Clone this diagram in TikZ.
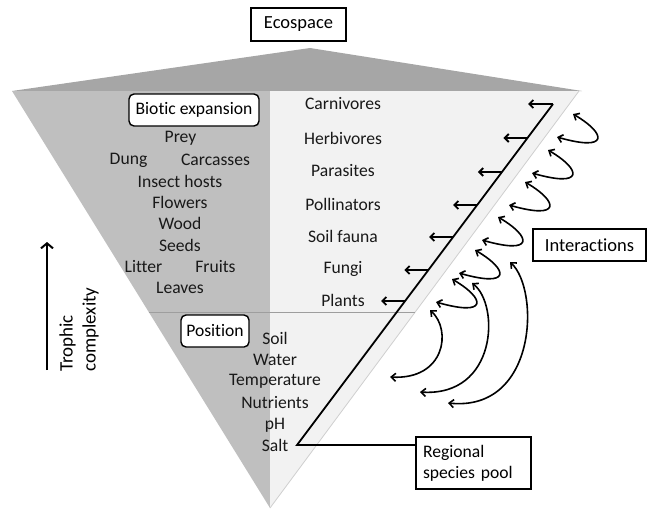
\documentclass[tikz,border=0pt]{standalone}
\usepackage{fontspec}
\setmainfont{Carlito}[Ligatures={NoCommon}]
\usetikzlibrary{arrows.meta,calc}
\definecolor{lidgray}{HTML}{A6A6A6}
\definecolor{leftgray}{HTML}{BFBFBF}
\definecolor{rightgray}{HTML}{F2F2F2}
\definecolor{edgegray}{HTML}{CFCFCF}
\definecolor{divgray}{HTML}{9E9E9E}
\begin{document}
\begin{tikzpicture}[x=1pt,y=-1pt,
  txt/.style={font=\fontsize{17.6}{21}\selectfont, inner sep=0pt, text=black!90},
  sqbox/.style={draw=black, line width=1.4pt, fill=white, font=\fontsize{18.5}{22}\selectfont, inner sep=0pt},
  rbox/.style={sqbox, rounded corners=5pt, font=\fontsize{17.6}{21}\selectfont},
  lvl/.style={-{Straight Barb[length=4pt,width=8pt]}, line width=1.8pt},
  loopar/.style={{Straight Barb[length=4.5pt,width=8pt]}-{Straight Barb[length=4.5pt,width=8pt]}, line width=1.6pt},
]
\useasboundingbox (0,0) rectangle (650,509);
% shapes
\fill[lidgray] (12,91) -- (310,48) -- (582,91) -- cycle;
\fill[leftgray] (12,91) -- (270,91) -- (270,508) -- cycle;
\fill[rightgray] (270,91) -- (579,91) -- (270,508) -- cycle;
\draw[edgegray, line width=0.8pt] (579,91) -- (270,508);
\draw[divgray, line width=0.6pt] (148.7,312) -- (415,312);

% boxes
\node[sqbox, minimum width=95pt, minimum height=33pt] (eco) at (298.5,24.5) {Ecospace};
\node[rbox, minimum width=130pt, minimum height=32pt] (bio) at (194,110) {Biotic expansion};
\node[rbox, minimum width=68pt, minimum height=32pt] (pos) at (215,331) {Position};
\node[sqbox, minimum width=113pt, minimum height=32pt] (inter) at (589.5,245) {Interactions};
\node[sqbox, font=\fontsize{17.6}{21}\selectfont, align=left, text width=101pt, inner xsep=7pt, minimum height=52pt] (reg) at (473.5,463) {Regional\\species pool};

% biotic resources
\node[txt] (prey) at (180.5,138) {Prey};
\node[txt] (dung) at (128.5,160) {Dung};
\node[txt] (carc) at (215.5,160) {Carcasses};
\node[txt] (ins) at (180,181) {Insect hosts};
\node[txt] (flo) at (180,202) {Flowers};
\node[txt] (wood) at (180,223) {Wood};
\node[txt] (seed) at (180,245) {Seeds};
\node[txt] (lit) at (143.5,266.5) {Litter};
\node[txt] (fru) at (215.5,266.5) {Fruits};
\node[txt] (lea) at (180,288) {Leaves};

% position factors
\node[txt] (soil) at (275,338) {Soil};
\node[txt] (wat) at (275,360) {Water};
\node[txt] (temp) at (275,381) {Temperature};
\node[txt] (nut) at (275,403) {Nutrients};
\node[txt] (ph) at (275,425) {pH};
\node[txt] (salt) at (275,445) {Salt};

% trophic levels
\node[txt] (l1) at (343,104) {Carnivores};
\node[txt] (l2) at (343,138) {Herbivores};
\node[txt] (l3) at (343,171) {Parasites};
\node[txt] (l4) at (343,204) {Pollinators};
\node[txt] (l5) at (343,236) {Soil fauna};
\node[txt] (l6) at (343,269) {Fungi};
\node[txt] (l7) at (343,300) {Plants};

% species pool line
\coordinate (top) at (553,104);
\coordinate (bot) at (297,445);
\draw[line width=1.8pt, line join=miter] (reg.west |- bot) -- (bot) -- (top);
\coordinate (e1) at ($(top)+(-25,0)$);
\draw[lvl] (top) -- (e1);
\foreach \f/\n in {0.9003/2,0.8006/3,0.7038/4,0.6100/5,0.5132/6,0.4223/7}{
  \coordinate (s\n) at ($(bot)!\f!(top)$);
  \coordinate (e\n) at ($(s\n)+(-24,0)$);
  \draw[lvl] (s\n) -- (e\n);
}

% interaction loops
\foreach \ax/\ay [count=\i] in {573/114, 548/150, 525/182, 498/217, 475/250, 452/279}{
  \coordinate (la\i) at (\ax,\ay);
  \coordinate (lb\i) at ($(la\i)+(-16,23)$);
  \draw[loopar] (la\i) .. controls ($(la\i)+(34,20)$) and ($(lb\i)+(52,15)$) .. (lb\i);
}
\coordinate (ba7) at (430,310); \coordinate (bb7) at (390,377);
\coordinate (ba8) at (472,283); \coordinate (bb8) at (420,392);
\coordinate (ba9) at (510,262); \coordinate (bb9) at (448,403);
\draw[loopar] (ba7) .. controls (452,330) and (445,380) .. (bb7);
\draw[loopar] (ba8) .. controls (500,305) and (497,397) .. (bb8);
\draw[loopar] (ba9) .. controls (540,290) and (537,412) .. (bb9);

% trophic complexity
\coordinate (tb) at (47,370);
\coordinate (tt) at (47,242);
\draw[line width=2pt, -{Straight Barb[length=5pt,width=12pt]}] (tb) -- (tt);
\node[rotate=90, anchor=west, align=left, inner sep=0pt, font=\fontsize{19}{23}\selectfont] (troph) at (79,372) {Trophic\\complexity};
\end{tikzpicture}
\end{document}
